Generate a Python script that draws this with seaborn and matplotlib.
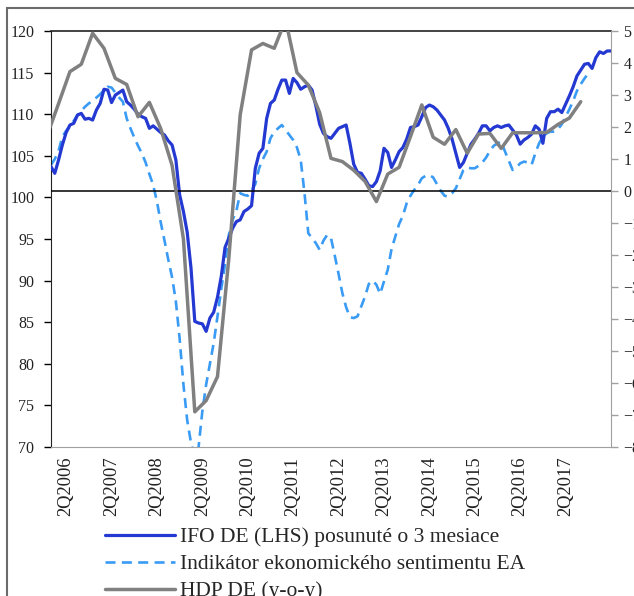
import numpy as np
import matplotlib
matplotlib.use("Agg")
import matplotlib.pyplot as plt
import seaborn as sns
from matplotlib.patches import Rectangle

# month index: 0 = Jan 2006
ifo = [
    103.7, 102.9, 104.5, 106.3, 107.8, 108.7, 108.9, 109.9, 110.1, 109.4, 109.5, 109.3,
    110.5, 111.3, 113.0, 112.9, 111.4, 112.3, 112.6, 112.9, 111.5, 111.1, 110.6, 110.0,
    109.7, 109.5, 108.3, 108.6, 108.2, 107.8, 107.5, 106.8, 106.3, 104.5, 100.3, 98.3,
    95.8, 91.5, 85.1, 84.9, 84.8, 83.9, 85.5, 86.2, 88.0, 90.5, 94.0, 95.1,
    96.3, 97.1, 97.3, 98.3, 98.6, 99.0, 103.5, 105.3, 105.9, 109.5, 111.3, 111.7,
    113.0, 114.1, 114.1, 112.5, 114.3, 113.8, 113.0, 113.3, 113.5, 112.9, 111.0, 108.8,
    107.7, 107.3, 107.1, 107.7, 108.3, 108.5, 108.7, 106.5, 104.0, 103.0, 102.9, 102.2,
    101.4, 101.3, 101.9, 103.2, 105.9, 105.4, 103.6, 104.5, 105.5, 106.0, 107.0, 108.4,
    108.5, 108.7, 109.7, 110.8, 111.1, 110.9, 110.5, 109.9, 109.3, 108.3, 107.0, 105.3,
    103.6, 104.2, 105.3, 106.4, 107.0, 107.7, 108.6, 108.6, 108.0, 108.4, 108.6, 108.4,
    108.6, 108.7, 108.1, 107.5, 106.4, 106.9, 107.2, 107.6, 108.6, 108.2, 106.5, 109.5,
    110.3, 110.3, 110.6, 110.2, 111.2, 112.2, 113.3, 114.6, 115.3, 116.0, 116.1, 115.5,
    116.8, 117.5, 117.3, 117.6, 117.6,
]
ifo_months = np.arange(len(ifo))

esi = [
    103.9, 104.6, 105.6, 107.3, 108.0, 108.5, 109.2, 109.9, 110.4, 110.9, 111.3, 111.6,
    112.0, 112.4, 112.9, 113.3, 113.2, 112.6, 112.0, 111.5, 109.5, 108.3, 107.2, 106.2,
    105.3, 104.2, 102.8, 101.5, 99.5, 97.0, 94.8, 92.5, 90.4, 87.5, 83.0, 77.5,
    73.2, 70.5, 68.8, 70.0, 74.3, 77.5, 80.0, 82.5, 85.7, 89.0, 92.0, 95.5,
    97.3, 98.4, 100.5, 100.3, 100.2, 100.8, 101.6, 103.5, 104.6, 105.5, 107.1, 107.9,
    108.3, 108.7, 108.1, 107.5, 106.9, 106.0, 104.5, 100.5, 95.7, 95.1, 94.5, 93.7,
    94.8, 95.5, 95.1, 93.0, 90.8, 88.5, 86.8, 85.6, 85.5, 85.7, 86.9, 88.1,
    89.6, 90.0, 89.5, 88.4, 89.9, 91.3, 93.8, 95.3, 96.8, 97.8, 99.3, 100.2,
    100.9, 101.5, 102.3, 102.6, 102.7, 102.4, 101.6, 100.8, 100.2, 100.1, 100.5, 101.1,
    102.2, 103.3, 103.6, 103.5, 103.5, 103.8, 104.2, 104.8, 105.6, 106.2, 106.5, 106.7,
    105.5, 104.4, 103.3, 103.6, 104.1, 104.3, 104.2, 103.9, 105.3, 106.5, 107.3, 107.7,
    107.9, 107.9, 108.2, 108.8, 109.7, 110.6, 111.6, 112.8, 113.6, 114.3, 114.9,
]
esi_months = np.arange(len(esi))

# quarterly GDP y-o-y, placed on the last month of each quarter (Q4 2005 .. Q3 2017)
gdp_months = np.arange(-1, 141, 3)
gdp = [
    1.75, 2.73, 3.73, 3.96, 4.93, 4.46, 3.52, 3.33, 2.32, 2.77,
    1.95, 0.80, -1.50, -6.90, -6.55, -5.80, -2.10, 2.38, 4.41, 4.61,
    4.46, 5.35, 3.70, 3.31, 2.45, 1.02, 0.92, 0.65, 0.30, -0.33,
    0.53, 0.74, 1.70, 2.69, 1.68, 1.46, 1.92, 1.18, 1.78, 1.80,
    1.33, 1.82, 1.82, 1.82, 1.83, 2.08, 2.28, 2.79,
]

tick_labels = [f"2Q{y}" for y in range(2006, 2018)]
tick_months = 4 + 12 * np.arange(len(tick_labels))

labels = ["IFO DE (LHS) posunuté o 3 mesiace",
          "Indikátor ekonomického sentimentu EA",
          "HDP DE (y-o-y)"]

sns.set_style("white")
plt.rcParams["font.family"] = ["Liberation Serif", "DejaVu Serif"]

fig = plt.figure(figsize=(6.34, 5.96), dpi=100)
ax = fig.add_axes([51 / 634, 149 / 596, 560 / 634, 416 / 596])
ax2 = ax.twinx()

sns.lineplot(x=esi_months, y=esi, ax=ax, color="#3a9bf5", linewidth=1.9,
             linestyle="--", label=labels[1], zorder=2)
ax.lines[-1].set_dashes((3.8, 2.4))
sns.lineplot(x=ifo_months, y=ifo, ax=ax, color="#2438d2", linewidth=2.3,
             label=labels[0], zorder=3)

ax2.axhline(0, color="black", linewidth=1.1, zorder=1)
sns.lineplot(x=gdp_months, y=gdp, ax=ax2, color="#808080", linewidth=2.5,
             label=labels[2], zorder=3)

for a in (ax, ax2):
    if a.get_legend() is not None:
        a.get_legend().remove()

ax.set_xlim(0, 148)
ax.set_ylim(70, 120)
ax.set_yticks(np.arange(70, 121, 5))
ax2.set_ylim(-8, 5)
ax2.set_yticks(np.arange(-8, 6, 1))
ax.set_xticks(tick_months)
ax.set_xticklabels(tick_labels, rotation=90)
ax.set_xlabel("")
ax.set_ylabel("")
ax2.set_ylabel("")

ax.tick_params(axis="x", length=0, pad=7, labelsize=13.3, labelcolor="#222222")
ax.tick_params(axis="y", direction="out", length=5, width=1, color="black",
               pad=7, labelsize=11.5, labelcolor="#222222")
ax2.tick_params(axis="y", direction="out", length=5, width=1, color="#a0a0a0",
                pad=4, labelsize=11.5, labelcolor="#222222")

ax.spines["top"].set_color("#222222")
ax.spines["top"].set_linewidth(1.2)
ax.spines["left"].set_color("#222222")
ax.spines["bottom"].set_color("#a0a0a0")
ax.spines["right"].set_visible(False)
for s in ("top", "left", "bottom"):
    ax2.spines[s].set_visible(False)
ax2.spines["right"].set_color("#a0a0a0")

h1, l1 = ax.get_legend_handles_labels()
h2, l2 = ax2.get_legend_handles_labels()
order = {lab: h for h, lab in zip(h1 + h2, l1 + l2)}
fig.legend([order[lab] for lab in labels], labels, loc="upper left",
           bbox_to_anchor=(105 / 634, 1 - 527 / 596), frameon=False,
           fontsize=15.5, handlelength=3.25, handletextpad=0.25,
           labelspacing=0.33, borderaxespad=0, borderpad=0)

fig.patches.append(Rectangle((7 / 634, -0.05), 1.0, 1 - 8 / 596 + 0.05,
                             transform=fig.transFigure, fill=False,
                             edgecolor="#6b6b6b", linewidth=1.5))

fig.savefig("out.png", dpi=100)
